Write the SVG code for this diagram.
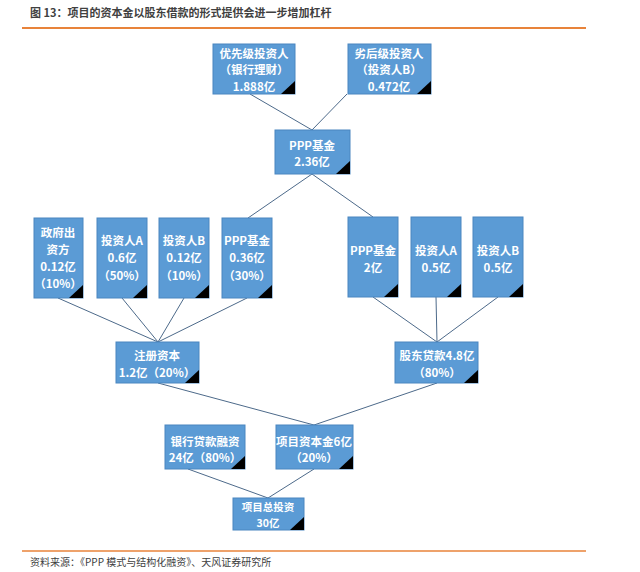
<svg xmlns="http://www.w3.org/2000/svg" width="640" height="572" viewBox="0 0 640 572">
<style>
.bx{fill:#5B9BD5;stroke:#4A86C0;stroke-width:1}
.cn{fill:#000}
.t{font-family:"Noto Sans CJK SC","Liberation Sans",sans-serif;font-size:11.5px;font-weight:bold;fill:#fff;text-anchor:middle;dominant-baseline:central}
.ts{font-size:10.5px}
.ln{stroke:#4D6A8A;stroke-width:1;fill:none}
.hd{font-family:"Noto Sans CJK SC","Liberation Sans",sans-serif;font-size:11px;font-weight:bold;fill:#404040}
.ft{font-family:"Noto Sans CJK SC","Liberation Sans",sans-serif;font-size:10px;fill:#404040}
</style>
<rect width="640" height="572" fill="#fff"/>
<text class="hd" x="30" y="17">图 13：项目的资本金以股东借款的形式提供会进一步增加杠杆</text>
<line x1="22" y1="28" x2="586" y2="28" stroke="#E8833A" stroke-width="2"/>
<line x1="22" y1="551" x2="586" y2="551" stroke="#E8833A" stroke-width="1.5"/>
<text class="ft" x="30" y="566">资料来源：《PPP 模式与结构化融资》、天风证券研究所</text>
<g id="connectors">
<line class="ln" x1="250" y1="94" x2="312" y2="130"/>
<line class="ln" x1="347" y1="94" x2="312" y2="130"/>
<line class="ln" x1="312" y1="174" x2="248" y2="218"/>
<line class="ln" x1="312" y1="174" x2="373" y2="217"/>
<line class="ln" x1="58" y1="298" x2="158" y2="342"/>
<line class="ln" x1="122" y1="298" x2="158" y2="342"/>
<line class="ln" x1="184" y1="298" x2="158" y2="342"/>
<line class="ln" x1="247" y1="298" x2="158" y2="342"/>
<line class="ln" x1="373" y1="297" x2="437" y2="342"/>
<line class="ln" x1="436" y1="297" x2="437" y2="342"/>
<line class="ln" x1="498" y1="297" x2="437" y2="342"/>
<line class="ln" x1="158" y1="383" x2="314" y2="425"/>
<line class="ln" x1="437" y1="383" x2="314" y2="425"/>
<line class="ln" x1="188" y1="469" x2="268" y2="498"/>
<line class="ln" x1="314" y1="469" x2="268" y2="498"/>
</g>
<g id="n1"><rect class="bx" x="213" y="44" width="82" height="50"/><path class="cn" d="M295 81 L295 94 L281 94 Z"/>
<text class="t" x="254" y="53">优先级投资人</text><text class="t" x="254" y="69">（银行理财）</text><text class="t" x="254" y="86">1.888亿</text></g>
<g id="n2"><rect class="bx" x="348" y="44" width="83" height="50"/><path class="cn" d="M431 81 L431 94 L417 94 Z"/>
<text class="t" x="389" y="53">劣后级投资人</text><text class="t" x="389" y="69">（投资人B）</text><text class="t" x="389" y="86">0.472亿</text></g>
<g id="n3"><rect class="bx" x="275" y="130" width="75" height="44"/><path class="cn" d="M350 161 L350 174 L336 174 Z"/>
<text class="t" x="312" y="145">PPP基金</text><text class="t" x="312" y="161">2.36亿</text></g>
<g id="n4"><rect class="bx" x="34" y="218" width="49" height="80"/><path class="cn" d="M83 285 L83 298 L69 298 Z"/>
<text class="t" x="58" y="232">政府出</text><text class="t" x="58" y="249">资方</text><text class="t" x="58" y="266">0.12亿</text><text class="t" x="58" y="283">（10%）</text></g>
<g id="n5"><rect class="bx" x="97" y="218" width="50" height="80"/><path class="cn" d="M147 285 L147 298 L133 298 Z"/>
<text class="t" x="122" y="240">投资人A</text><text class="t" x="122" y="257">0.6亿</text><text class="t" x="122" y="275">（50%）</text></g>
<g id="n6"><rect class="bx" x="159" y="218" width="50" height="80"/><path class="cn" d="M209 285 L209 298 L195 298 Z"/>
<text class="t" x="184" y="240">投资人B</text><text class="t" x="184" y="257">0.12亿</text><text class="t" x="184" y="275">（10%）</text></g>
<g id="n7"><rect class="bx" x="222" y="218" width="50" height="80"/><path class="cn" d="M272 285 L272 298 L258 298 Z"/>
<text class="t" x="247" y="240">PPP基金</text><text class="t" x="247" y="257">0.36亿</text><text class="t" x="247" y="275">（30%）</text></g>
<g id="n8"><rect class="bx" x="348" y="217" width="50" height="80"/><path class="cn" d="M398 284 L398 297 L384 297 Z"/>
<text class="t" x="373" y="250">PPP基金</text><text class="t" x="373" y="267">2亿</text></g>
<g id="n9"><rect class="bx" x="411" y="217" width="50" height="80"/><path class="cn" d="M461 284 L461 297 L447 297 Z"/>
<text class="t" x="436" y="250">投资人A</text><text class="t" x="436" y="267">0.5亿</text></g>
<g id="n10"><rect class="bx" x="473" y="217" width="50" height="80"/><path class="cn" d="M523 284 L523 297 L509 297 Z"/>
<text class="t" x="498" y="250">投资人B</text><text class="t" x="498" y="267">0.5亿</text></g>
<g id="n11"><rect class="bx" x="116" y="342" width="83" height="41"/><path class="cn" d="M199 370 L199 383 L185 383 Z"/>
<text class="t" x="157" y="355">注册资本</text><text class="t" x="157" y="372">1.2亿（20%）</text></g>
<g id="n12"><rect class="bx" x="395" y="342" width="83" height="41"/><path class="cn" d="M478 370 L478 383 L464 383 Z"/>
<text class="t" x="437" y="355">股东贷款4.8亿</text><text class="t" x="437" y="372">（80%）</text></g>
<g id="n13"><rect class="bx" x="165" y="425" width="80" height="44"/><path class="cn" d="M245 456 L245 469 L231 469 Z"/>
<text class="t" x="205" y="441">银行贷款融资</text><text class="t" x="205" y="457">24亿（80%）</text></g>
<g id="n14"><rect class="bx" x="276" y="425" width="77" height="44"/><path class="cn" d="M353 456 L353 469 L339 469 Z"/>
<text class="t" x="314" y="441">项目资本金6亿</text><text class="t" x="314" y="457">（20%）</text></g>
<g id="n15"><rect class="bx" x="233" y="498" width="71" height="32"/><path class="cn" d="M304 517 L304 530 L290 530 Z"/>
<text class="t ts" x="268" y="506">项目总投资</text><text class="t ts" x="268" y="522">30亿</text></g>
</svg>
